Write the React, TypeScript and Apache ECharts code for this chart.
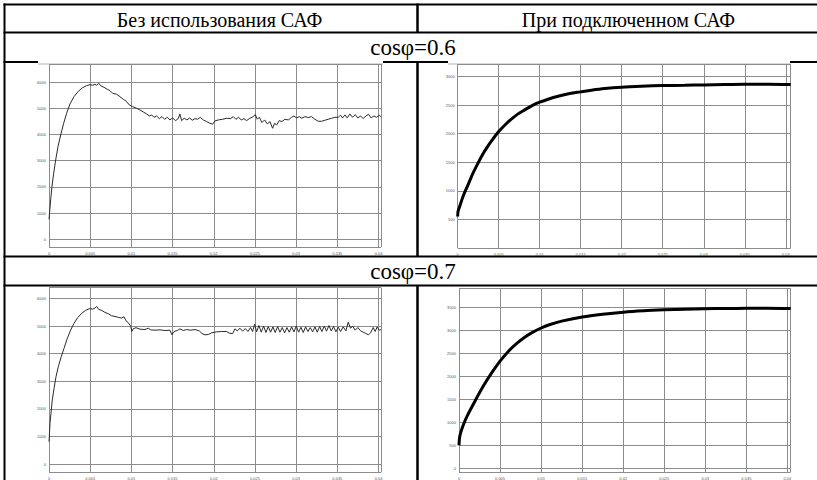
import React, { useEffect, useRef } from "react";
import * as echarts from "echarts";

// Column / row titles
const headerLeft = "Без использования САФ";
const headerRight = "При подключенном САФ";
const rowTitles = ["cosφ=0.6", "cosφ=0.7"];

// cosφ=0.6, без САФ
const t1 = [0, 0.00008, 0.0002, 0.00036, 0.00057, 0.00081, 0.00109, 0.00142, 0.00178, 0.00214, 0.00255, 0.00303, 0.00356, 0.00409, 0.00457, 0.00497, 0.0053, 0.00558, 0.00578, 0.00603, 0.00631, 0.00667, 0.00708, 0.0074, 0.00772, 0.00821, 0.00861, 0.00902, 0.00942, 0.00975, 0.01015, 0.01064, 0.01104, 0.01145, 0.01185, 0.01217, 0.01246, 0.01274, 0.01306, 0.01339, 0.01371, 0.01403, 0.01436, 0.01468, 0.015, 0.01537, 0.01569, 0.01589, 0.0161, 0.01642, 0.01674, 0.01707, 0.01739, 0.01772, 0.01804, 0.01836, 0.01873, 0.01913, 0.01954, 0.01986, 0.02014, 0.02055, 0.02107, 0.02156, 0.02204, 0.02237, 0.02269, 0.02301, 0.02334, 0.02366, 0.02398, 0.02439, 0.02479, 0.02504, 0.02528, 0.02552, 0.02585, 0.02617, 0.0265, 0.02682, 0.02714, 0.02738, 0.02763, 0.02795, 0.02827, 0.02864, 0.02904, 0.02945, 0.02973, 0.03005, 0.03038, 0.0307, 0.03106, 0.03147, 0.03187, 0.03228, 0.03268, 0.03309, 0.03349, 0.03389, 0.0343, 0.0347, 0.03511, 0.03539, 0.03563, 0.03592, 0.0362, 0.03652, 0.03685, 0.03717, 0.03749, 0.03782, 0.03814, 0.03846, 0.03879, 0.03911, 0.03943, 0.03976, 0.04008, 0.04028];
const v1 = [760, 1057, 1503, 2013, 2522, 3032, 3541, 3987, 4433, 4815, 5172, 5452, 5656, 5796, 5873, 5911, 5885, 5924, 5885, 5962, 5860, 5809, 5732, 5682, 5580, 5541, 5452, 5350, 5261, 5134, 5070, 5006, 4943, 4866, 4790, 4713, 4752, 4662, 4713, 4611, 4688, 4586, 4662, 4560, 4637, 4535, 4611, 4790, 4535, 4624, 4560, 4637, 4548, 4611, 4586, 4662, 4560, 4497, 4433, 4395, 4522, 4560, 4586, 4624, 4611, 4688, 4586, 4662, 4560, 4611, 4535, 4624, 4688, 4764, 4586, 4662, 4459, 4560, 4408, 4497, 4242, 4433, 4369, 4535, 4497, 4586, 4560, 4662, 4713, 4637, 4688, 4624, 4688, 4650, 4688, 4586, 4510, 4510, 4548, 4586, 4624, 4662, 4662, 4739, 4637, 4752, 4637, 4790, 4662, 4764, 4637, 4713, 4611, 4713, 4777, 4637, 4713, 4662, 4739, 4688];

// cosφ=0.6, при подключенном САФ
const t2 = [0, 0.00004, 0.00024, 0.00065, 0.00126, 0.00187, 0.00248, 0.00309, 0.0037, 0.00431, 0.005, 0.00573, 0.00654, 0.00736, 0.00817, 0.00907, 0.01, 0.01102, 0.01224, 0.01366, 0.01496, 0.0163, 0.01793, 0.01996, 0.0224, 0.025, 0.02768, 0.02996, 0.03256, 0.035, 0.03785, 0.0406];
const v2 = [552, 640, 727, 902, 1106, 1310, 1485, 1648, 1788, 1910, 2038, 2149, 2254, 2347, 2417, 2493, 2551, 2604, 2656, 2703, 2732, 2761, 2790, 2814, 2831, 2843, 2848, 2854, 2860, 2866, 2866, 2860];

// cosφ=0.7, без САФ
const t3 = [0, 0.00008, 0.00012, 0.00024, 0.0004, 0.00061, 0.00085, 0.00113, 0.00146, 0.00182, 0.00222, 0.00263, 0.00303, 0.00348, 0.00396, 0.00445, 0.00489, 0.0053, 0.00558, 0.00578, 0.00603, 0.00639, 0.00679, 0.0072, 0.0076, 0.00801, 0.00841, 0.00882, 0.0091, 0.00934, 0.00963, 0.00991, 0.01007, 0.01023, 0.01056, 0.01104, 0.01165, 0.01205, 0.01234, 0.01286, 0.01347, 0.01407, 0.01468, 0.01492, 0.01517, 0.01557, 0.01589, 0.0163, 0.0167, 0.01719, 0.01772, 0.01824, 0.01857, 0.01893, 0.01933, 0.01974, 0.02034, 0.02095, 0.02156, 0.02188, 0.02229, 0.02257, 0.02285, 0.02318, 0.0235, 0.02382, 0.02415, 0.02447, 0.02471, 0.02496, 0.0252, 0.02548, 0.02576, 0.02605, 0.02633, 0.02661, 0.0269, 0.02718, 0.02746, 0.02775, 0.02803, 0.02831, 0.0286, 0.02888, 0.02916, 0.02945, 0.02973, 0.03001, 0.0303, 0.03058, 0.03086, 0.03115, 0.03143, 0.03171, 0.032, 0.03228, 0.03256, 0.03285, 0.03313, 0.03341, 0.03369, 0.03398, 0.03426, 0.03454, 0.03483, 0.03511, 0.03539, 0.03571, 0.03604, 0.03632, 0.03661, 0.03685, 0.03717, 0.03749, 0.03782, 0.03814, 0.03846, 0.03879, 0.03903, 0.03935, 0.03959, 0.03984, 0.04008, 0.04028];
const v3 = [809, 1232, 1473, 1836, 2319, 2742, 3164, 3527, 3865, 4191, 4553, 4855, 5097, 5302, 5459, 5568, 5628, 5616, 5652, 5712, 5604, 5568, 5495, 5447, 5374, 5350, 5314, 5290, 5338, 5193, 5121, 5000, 4807, 4903, 4940, 4886, 4874, 4922, 4862, 4850, 4862, 4838, 4850, 4682, 4802, 4838, 4898, 4838, 4874, 4850, 4874, 4826, 4730, 4682, 4694, 4754, 4790, 4802, 4802, 4742, 4730, 4898, 4826, 4922, 4814, 4910, 4802, 4946, 4802, 5066, 4790, 5018, 4778, 5000, 4766, 4982, 4778, 4970, 4766, 4982, 4778, 4946, 4754, 4946, 4778, 4970, 4790, 5000, 4778, 4958, 4766, 4970, 4802, 4946, 4790, 4970, 4778, 4982, 4802, 5000, 4814, 5018, 4826, 4982, 4790, 4958, 4802, 4970, 4826, 5138, 4922, 5000, 4850, 4946, 4826, 4778, 4730, 4682, 4754, 4946, 4802, 4970, 4850, 4874];

// cosφ=0.7, при подключенном САФ
const t4 = [0, 0.0001, 0.0005, 0.001, 0.002, 0.003, 0.004, 0.005, 0.006, 0.007, 0.008, 0.009, 0.01, 0.011, 0.0125, 0.015, 0.0175, 0.02, 0.0225, 0.025, 0.0275, 0.03, 0.0325, 0.035, 0.0375, 0.0404];
const v4 = [500, 700, 930, 1140, 1480, 1800, 2080, 2330, 2540, 2710, 2850, 2960, 3050, 3120, 3200, 3290, 3350, 3395, 3425, 3445, 3460, 3468, 3474, 3477, 3478, 3472];

const pairs = (t: number[], v: number[]) => t.map((x, i) => [x, v[i]]);

const GRID_COLOR = "#8c8c8c";
const LABEL_COLOR = "#555";

function xAxisCfg(gridIndex: number, max: number) {
  return {
    type: "value",
    gridIndex,
    min: 0,
    max,
    interval: 0.005,
    axisLine: { show: false },
    axisTick: { show: false },
    splitLine: { show: true, lineStyle: { color: GRID_COLOR, width: 1 } },
    axisLabel: {
      fontSize: 4,
      color: LABEL_COLOR,
      margin: 4,
      fontFamily: "Liberation Sans",
      showMaxLabel: false,
      formatter: (v: number) => String(v),
    },
  };
}

function yAxisCfg(gridIndex: number, min: number, max: number, step: number) {
  return {
    type: "value",
    gridIndex,
    min,
    max,
    minInterval: step,
    maxInterval: step,
    splitNumber: Math.round((max - min) / step),
    axisLine: { show: false },
    axisTick: { show: false },
    splitLine: { show: true, lineStyle: { color: GRID_COLOR, width: 1 } },
    axisLabel: {
      fontSize: 4,
      color: LABEL_COLOR,
      margin: 3,
      fontFamily: "Liberation Sans",
      showMinLabel: false,
      showMaxLabel: false,
      formatter: (v: number) => String(v),
    },
  };
}

function hLine(x1: number, x2: number, y: number, w = 2, color = "#000") {
  return { type: "line", silent: true, shape: { x1, y1: y, x2, y2: y }, style: { stroke: color, lineWidth: w } };
}
function vLine(x: number, y1: number, y2: number, w = 2, color = "#000") {
  return { type: "line", silent: true, shape: { x1: x, y1, x2: x, y2 }, style: { stroke: color, lineWidth: w } };
}
function label(text: string, x: number, y: number, size: number) {
  return {
    type: "text",
    silent: true,
    x,
    y,
    style: {
      text,
      fill: "#000",
      font: `${size}px "Liberation Serif", "Times New Roman", serif`,
      align: "center",
      verticalAlign: "middle",
    },
  };
}

export default function App() {
  const ref = useRef<HTMLDivElement>(null);
  useEffect(() => {
    if (!ref.current) return;
    const chart = echarts.init(ref.current, undefined, { renderer: "svg" });
    const thin = { color: "#2a2a2a", width: 1 };
    const thick = { color: "#000", width: 3 };
    chart.setOption({
      animation: false,
      backgroundColor: "#fff",
      grid: [
        { left: 49, top: 64, width: 332, height: 183, outerBoundsMode: "none" },
        { left: 457.7, top: 64, width: 333, height: 184, outerBoundsMode: "none" },
        { left: 49, top: 287.7, width: 332, height: 184.6, outerBoundsMode: "none" },
        { left: 459, top: 288.3, width: 331.7, height: 183.7, outerBoundsMode: "none" },
      ],
      xAxis: [xAxisCfg(0, 0.0403), xAxisCfg(1, 0.0406), xAxisCfg(2, 0.0403), xAxisCfg(3, 0.0404)],
      yAxis: [
        yAxisCfg(0, -300, 6700, 1000),
        yAxisCfg(1, 0, 3220, 500),
        yAxisCfg(2, -300, 6390, 1000),
        yAxisCfg(3, -80, 3913, 500),
      ],
      series: [
        { type: "line", xAxisIndex: 0, yAxisIndex: 0, data: pairs(t1, v1), symbol: "none", lineStyle: thin, silent: true },
        { type: "line", xAxisIndex: 1, yAxisIndex: 1, data: pairs(t2, v2), symbol: "none", smooth: 0.3, lineStyle: thick, silent: true },
        { type: "line", xAxisIndex: 2, yAxisIndex: 2, data: pairs(t3, v3), symbol: "none", lineStyle: thin, silent: true },
        { type: "line", xAxisIndex: 3, yAxisIndex: 3, data: pairs(t4, v4), symbol: "none", smooth: 0.3, lineStyle: thick, silent: true },
      ],
      graphic: [
        // table lines
        hLine(3.5, 817, 4.5),
        hLine(3.5, 817, 32.5),
        hLine(3.5, 38, 62),
        hLine(383, 448, 62),
        hLine(790, 817, 62),
        hLine(3.5, 817, 256.5),
        hLine(3.5, 817, 285.5),
        vLine(4.5, 3.5, 480),
        vLine(417.5, 3.5, 32.5, 2.5),
        vLine(417.5, 62, 256.5, 2.5),
        vLine(417.5, 285.5, 480, 2.5),
        // image top edges
        hLine(38, 383, 64, 1, "#b0b0b0"),
        hLine(448, 791, 64, 1, "#b0b0b0"),
        // texts
        label(headerLeft, 219.5, 19.5, 20),
        label(headerRight, 628.5, 19.5, 20),
        label(rowTitles[0], 413, 47, 23),
        label(rowTitles[1], 413, 271, 23),
      ],
    });
    return () => chart.dispose();
  }, []);
  return (
    <div
      ref={ref}
      style={{ position: "absolute", left: 0, top: 0, width: 817, height: 480, background: "#fff" }}
    />
  );
}
